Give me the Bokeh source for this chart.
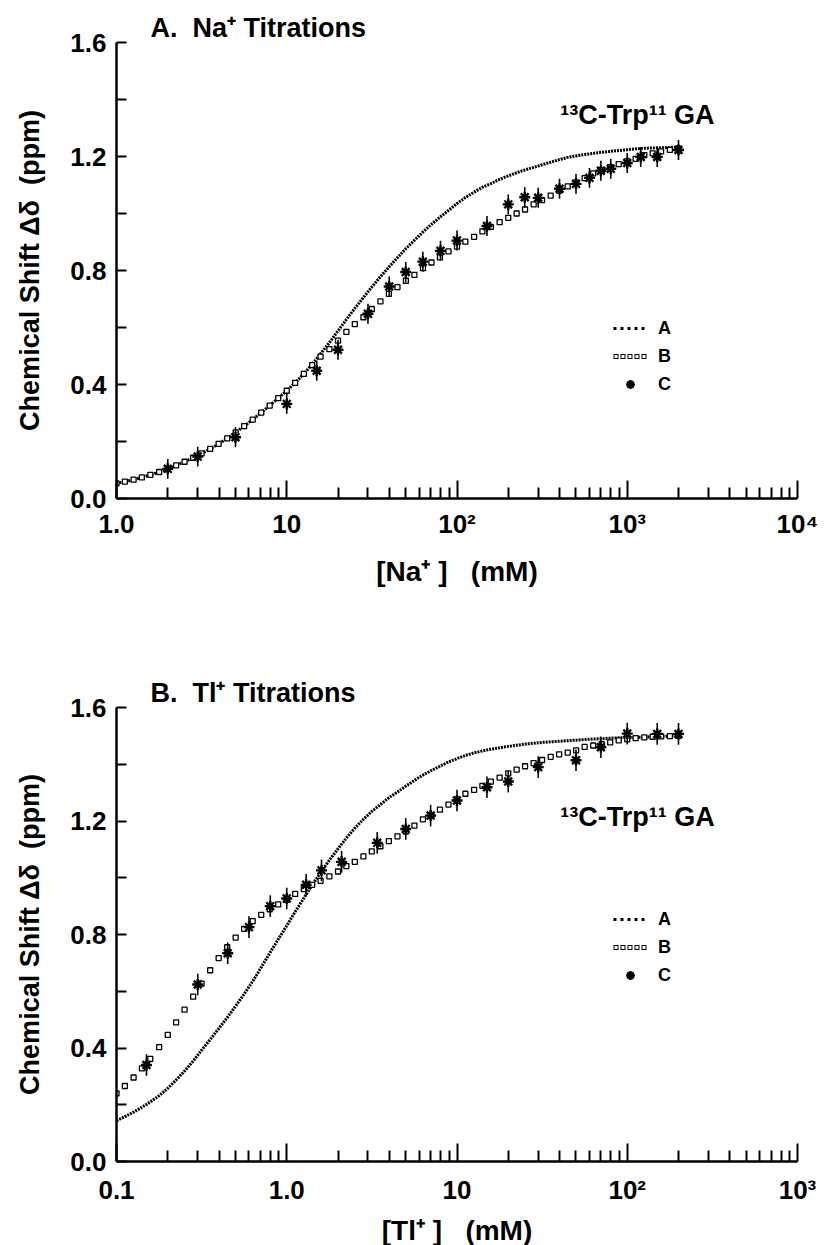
from bokeh.plotting import figure
from bokeh.models import (Range1d, FixedTicker, NumeralTickFormatter, Label,
                          Legend, LegendItem)
from bokeh.layouts import column
from bokeh.embed import file_html
from bokeh.resources import INLINE

FONT = "Liberation Sans"
NB = "\u00a0"

# ---------------- data: panel A (Na+) ----------------
x_na = [1.00, 1.12, 1.26, 1.41, 1.58, 1.78, 2.00, 2.24, 2.51, 2.82,
        3.16, 3.55, 3.98, 4.47, 5.01, 5.62, 6.31, 7.08, 7.94, 8.91,
        10.0, 11.2, 12.6, 14.1, 15.8, 17.8, 20.0, 22.4, 25.1, 28.2,
        31.6, 35.5, 39.8, 44.7, 50.1, 56.2, 63.1, 70.8, 79.4, 89.1,
        100, 112, 126, 141, 158, 178, 200, 224, 251, 282,
        316, 355, 398, 447, 501, 562, 631, 708, 794, 891,
        1000, 1120, 1260, 1410, 1580, 1780, 2000]
a_na = [0.053, 0.059, 0.066, 0.074, 0.083, 0.093, 0.104, 0.116, 0.129, 0.143,
        0.158, 0.174, 0.192, 0.211, 0.232, 0.254, 0.277, 0.301, 0.326, 0.352,
        0.378, 0.406, 0.437, 0.471, 0.508, 0.547, 0.588, 0.628, 0.667, 0.705,
        0.742, 0.778, 0.812, 0.845, 0.877, 0.906, 0.935, 0.962, 0.987, 1.011,
        1.035, 1.056, 1.075, 1.092, 1.105, 1.120, 1.132, 1.143, 1.153, 1.162,
        1.171, 1.180, 1.189, 1.197, 1.202, 1.207, 1.211, 1.215, 1.218, 1.221,
        1.224, 1.227, 1.229, 1.230, 1.231, 1.232, 1.233]
b_na = [0.053, 0.059, 0.066, 0.074, 0.083, 0.093, 0.104, 0.116, 0.129, 0.143,
        0.158, 0.174, 0.192, 0.211, 0.232, 0.254, 0.277, 0.301, 0.326, 0.352,
        0.378, 0.406, 0.437, 0.468, 0.498, 0.524, 0.554, 0.585, 0.612, 0.636,
        0.665, 0.692, 0.718, 0.742, 0.764, 0.785, 0.808, 0.828, 0.846, 0.867,
        0.884, 0.901, 0.918, 0.937, 0.953, 0.970, 0.985, 1.000, 1.014, 1.032,
        1.047, 1.063, 1.080, 1.095, 1.108, 1.124, 1.141, 1.152, 1.163, 1.173,
        1.183, 1.192, 1.205, 1.211, 1.218, 1.223, 1.228]
c_na_x = [2, 3, 5, 10, 15, 20, 30, 40, 50, 63, 80, 100, 150, 200, 250,
          300, 400, 500, 600, 700, 800, 1000, 1200, 1500, 2000]
c_na_y = [0.104, 0.147, 0.215, 0.332, 0.448, 0.522, 0.648, 0.744, 0.795, 0.831,
          0.869, 0.905, 0.956, 1.032, 1.057, 1.055, 1.087, 1.104, 1.125, 1.150,
          1.157, 1.177, 1.198, 1.198, 1.223]
c_na_err = [0.035] * 25

# ---------------- data: panel B (Tl+) ----------------
x_tl = [0.100, 0.112, 0.126, 0.141, 0.158, 0.178, 0.200, 0.224, 0.251, 0.282,
        0.316, 0.355, 0.398, 0.447, 0.501, 0.562, 0.631, 0.708, 0.794, 0.891,
        1.00, 1.12, 1.26, 1.41, 1.58, 1.78, 2.00, 2.24, 2.51, 2.82,
        3.16, 3.55, 3.98, 4.47, 5.01, 5.62, 6.31, 7.08, 7.94, 8.91,
        10.0, 11.2, 12.6, 14.1, 15.8, 17.8, 20.0, 22.4, 25.1, 28.2,
        31.6, 35.5, 39.8, 44.7, 50.1, 56.2, 63.1, 70.8, 79.4, 89.1,
        100, 112, 126, 141, 158, 178, 200]
a_tl = [0.144, 0.158, 0.174, 0.191, 0.210, 0.232, 0.258, 0.287, 0.319, 0.354,
        0.392, 0.430, 0.468, 0.507, 0.548, 0.590, 0.635, 0.684, 0.734, 0.783,
        0.831, 0.880, 0.928, 0.974, 1.018, 1.062, 1.102, 1.140, 1.175, 1.206,
        1.234, 1.258, 1.282, 1.302, 1.323, 1.343, 1.362, 1.378, 1.393, 1.408,
        1.420, 1.431, 1.440, 1.447, 1.453, 1.458, 1.463, 1.467, 1.471, 1.474,
        1.477, 1.479, 1.481, 1.483, 1.485, 1.487, 1.489, 1.490, 1.492, 1.493,
        1.494, 1.495, 1.496, 1.497, 1.498, 1.499, 1.500]
b_tl = [0.240, 0.266, 0.296, 0.328, 0.362, 0.403, 0.446, 0.490, 0.535, 0.581,
        0.627, 0.674, 0.717, 0.755, 0.789, 0.820, 0.847, 0.869, 0.889, 0.906,
        0.922, 0.943, 0.960, 0.975, 0.989, 1.005, 1.022, 1.041, 1.056, 1.075,
        1.093, 1.111, 1.129, 1.146, 1.163, 1.184, 1.206, 1.220, 1.240, 1.258,
        1.276, 1.296, 1.310, 1.324, 1.339, 1.353, 1.368, 1.381, 1.393, 1.404,
        1.415, 1.426, 1.435, 1.441, 1.449, 1.461, 1.466, 1.471, 1.477, 1.484,
        1.488, 1.492, 1.495, 1.497, 1.498, 1.499, 1.500]
c_tl_x = [0.15, 0.3, 0.45, 0.6, 0.8, 1.0, 1.3, 1.6, 2.1, 3.4, 5, 7, 10,
          15, 20, 30, 50, 70, 100, 150, 200]
c_tl_y = [0.340, 0.624, 0.734, 0.826, 0.900, 0.927, 0.975, 1.026, 1.056, 1.123,
          1.172, 1.219, 1.272, 1.319, 1.339, 1.390, 1.414, 1.460, 1.508, 1.507,
          1.507]
c_tl_err = [0.038] * 21

# tick labels
y_ticks = [0.0, 0.4, 0.8, 1.2, 1.6]
y_minor = [0.2, 0.6, 1.0, 1.4]
na_ticks = [1.0, 10.0, 100.0, 1000.0, 10000.0]
na_labels = ["1.0", "10", "10²", "10³", "10⁴"]
tl_ticks = [0.1, 1.0, 10.0, 100.0, 1000.0]
tl_labels = ["0.1", "1.0", "10", "10²", "10³"]
mult = [2, 3, 4, 5, 6, 7, 8, 9]


def panel(x, a, b, cx, cy, cerr, ticks, labels, title, xlabel,
          ga_xy, fh, btop, bbot, xstand, xlstand, leg_loc):
    lo, hi = ticks[0], ticks[-1]
    p = figure(x_axis_type="log", x_range=Range1d(lo, hi), y_range=Range1d(0, 1.6),
               frame_width=681, frame_height=fh,
               min_border_left=116, min_border_right=21,
               min_border_top=btop, min_border_bottom=bbot,
               output_backend="svg", toolbar_location=None,
               outline_line_color=None, background_fill_color="white",
               border_fill_color="white")
    p.xgrid.visible = False
    p.ygrid.visible = False

    p.title.text = title
    p.title.align = "left"
    p.title.offset = 34
    p.title.standoff = 0
    p.title.text_font = FONT
    p.title.text_font_style = "bold"
    p.title.text_font_size = "27px"
    p.title.text_color = "black"

    minor = [t * m for t in ticks[:-1] for m in mult]
    p.xaxis.ticker = FixedTicker(ticks=ticks, minor_ticks=minor)
    p.xaxis.major_label_overrides = {t: l for t, l in zip(ticks, labels)}
    p.yaxis.ticker = FixedTicker(ticks=y_ticks, minor_ticks=y_minor)
    p.yaxis.formatter = NumeralTickFormatter(format="0.0")

    for ax in (p.xaxis[0], p.yaxis[0]):
        ax.axis_line_width = 2.5
        ax.axis_line_color = "black"
        ax.major_tick_line_width = 2
        ax.minor_tick_line_width = 2
        ax.major_tick_line_color = "black"
        ax.minor_tick_line_color = "black"
        ax.major_tick_out = 0
        ax.minor_tick_out = 0
        ax.major_label_text_font = FONT
        ax.major_label_text_font_style = "bold"
        ax.major_label_text_font_size = "26px"
        ax.major_label_text_color = "black"
        ax.axis_label_text_font = FONT
        ax.axis_label_text_font_style = "bold"
        ax.axis_label_text_color = "black"
    p.xaxis.axis_label_text_font_size = "28px"
    p.yaxis.axis_label_text_font_size = "27px"
    p.xaxis.major_tick_in = 18
    p.xaxis.minor_tick_in = 11
    p.yaxis.major_tick_in = 10
    p.yaxis.minor_tick_in = 10
    p.yaxis.major_label_standoff = 10
    p.xaxis.major_label_standoff = xstand
    p.xaxis.axis_label_standoff = xlstand
    p.yaxis.axis_label_standoff = 22
    p.xaxis.axis_label = xlabel
    p.yaxis.axis_label = "Chemical Shift Δδ" + NB + NB + "(ppm)"

    # curve A (dotted), curve B (open squares), data C (asterisks with error bars)
    p.line(x, a, line_color="black", line_width=3, line_dash="2 1")
    p.scatter(x, b, marker="square", size=5, fill_color="white",
              line_color="black", line_width=1.3)
    lo_e = [v - e for v, e in zip(cy, cerr)]
    hi_e = [v + e for v, e in zip(cy, cerr)]
    p.segment(cx, lo_e, cx, hi_e, line_color="black", line_width=1.6)
    rc1 = p.scatter(cx, cy, marker="asterisk", size=11, line_color="black", line_width=2.4)
    p.scatter(cx, cy, marker="circle", size=5, fill_color="black", line_color="black")

    # legend swatches: single-point lines draw nothing in the plot itself
    pa = p.line(x[:1], a[:1], line_color="black", line_width=3, line_dash="3 4")
    pb1 = p.line(x[:1], b[:1], line_color="black", line_width=5, line_dash="5 2")
    pb2 = p.line(x[:1], b[:1], line_color="white", line_width=3, line_dash="0 1 3 3")
    legend = Legend(items=[LegendItem(label="A", renderers=[pa]),
                           LegendItem(label="B", renderers=[pb1, pb2]),
                           LegendItem(label="C", renderers=[rc1])],
                    location=leg_loc, orientation="vertical", padding=0, margin=0,
                    spacing=6, glyph_width=34, glyph_height=22, label_height=22,
                    label_standoff=11, label_text_font=FONT,
                    label_text_font_style="bold", label_text_font_size="18px",
                    label_text_color="black",
                    background_fill_alpha=0, border_line_alpha=0)
    p.add_layout(legend)

    p.add_layout(Label(x=ga_xy[0], y=ga_xy[1], text="¹³C-Trp¹¹ GA", text_font=FONT,
                       text_font_style="bold", text_font_size="27px",
                       text_baseline="alphabetic", text_color="black"))
    return p


p1 = panel(x_na, a_na, b_na, c_na_x, c_na_y, c_na_err, na_ticks, na_labels,
           "A." + NB + " Na⁺ Titrations", "[Na⁺ ]" + NB + NB + NB + "(mM)",
           (403.6, 1.344), 456, 42, 122, 10, 14, (497, 103))
p2 = panel(x_tl, a_tl, b_tl, c_tl_x, c_tl_y, c_tl_err, tl_ticks, tl_labels,
           "B." + NB + " Tl⁺ Titrations", "[Tl⁺ ]" + NB + NB + NB + "(mM)",
           (40.4, 1.213), 454, 87, 84, 13, 7, (497, 175))

layout = column(p1, p2)
open("out.html", "w").write(file_html(layout, INLINE))
